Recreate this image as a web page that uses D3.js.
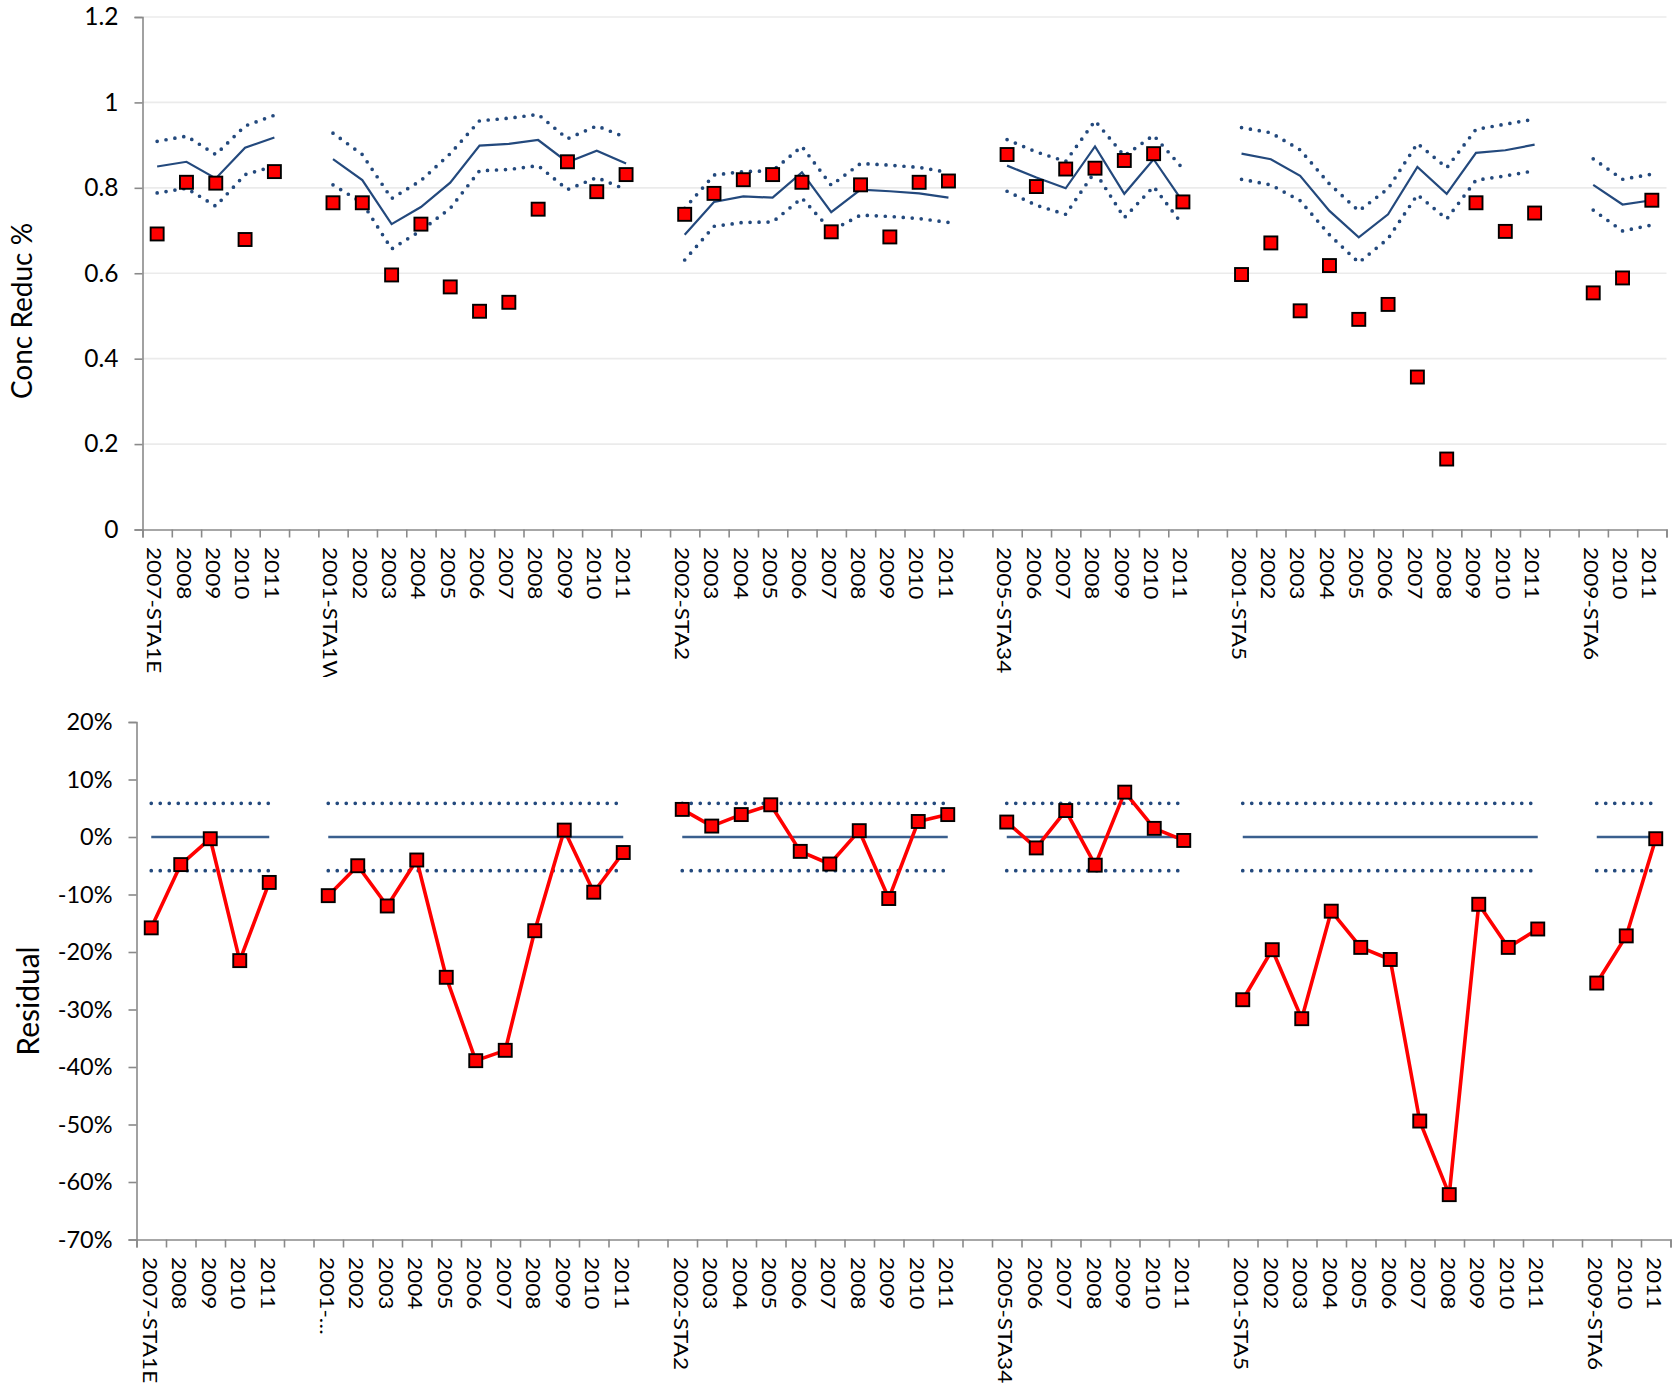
<!DOCTYPE html>
<html>
<head>
<meta charset="utf-8">
<script src="https://cdn.jsdelivr.net/npm/d3@7"></script>
<style>
  html, body { margin: 0; padding: 0; background: #ffffff; }
  svg { display: block; font-family: Lato, "Open Sans", sans-serif; }
</style>
</head>
<body>
<svg id="chart" width="1679" height="1386"></svg>
<script>
// Monitoring stations and the years sampled at each one
const stations = ["STA1E", "STA1W", "STA2", "STA34", "STA5", "STA6"];
const stationYears = [
  [2007, 2008, 2009, 2010, 2011],
  [2001, 2002, 2003, 2004, 2005, 2006, 2007, 2008, 2009, 2010, 2011],
  [2002, 2003, 2004, 2005, 2006, 2007, 2008, 2009, 2010, 2011],
  [2005, 2006, 2007, 2008, 2009, 2010, 2011],
  [2001, 2002, 2003, 2004, 2005, 2006, 2007, 2008, 2009, 2010, 2011],
  [2009, 2010, 2011]
];

// Observed concentration reduction
const observed = [
  [0.692, 0.813, 0.811, 0.679, 0.838],
  [0.765, 0.765, 0.596, 0.715, 0.568, 0.511, 0.532, 0.750, 0.861, 0.791, 0.831],
  [0.738, 0.787, 0.819, 0.831, 0.813, 0.697, 0.807, 0.685, 0.813, 0.816],
  [0.878, 0.803, 0.844, 0.846, 0.864, 0.880, 0.767],
  [0.597, 0.671, 0.512, 0.618, 0.492, 0.527, 0.357, 0.165, 0.765, 0.698, 0.741],
  [0.554, 0.589, 0.771]
];

// Model prediction
const predicted = [
  [0.850, 0.861, 0.822, 0.894, 0.918],
  [0.867, 0.818, 0.715, 0.755, 0.812, 0.899, 0.903, 0.912, 0.860, 0.887, 0.857],
  [0.690, 0.767, 0.780, 0.777, 0.836, 0.743, 0.796, 0.792, 0.787, 0.777],
  [0.852, 0.824, 0.799, 0.897, 0.786, 0.867, 0.767],
  [0.880, 0.867, 0.828, 0.746, 0.684, 0.738, 0.849, 0.786, 0.882, 0.888, 0.901],
  [0.807, 0.761, 0.771]
];

// Upper and lower limits around the prediction
const upperLimit = [
  [0.909, 0.921, 0.878, 0.945, 0.970],
  [0.928, 0.878, 0.775, 0.817, 0.880, 0.957, 0.963, 0.972, 0.915, 0.945, 0.918],
  [0.752, 0.830, 0.838, 0.840, 0.897, 0.806, 0.857, 0.853, 0.848, 0.836],
  [0.913, 0.884, 0.862, 0.957, 0.875, 0.923, 0.845],
  [0.941, 0.929, 0.889, 0.809, 0.746, 0.798, 0.904, 0.847, 0.937, 0.949, 0.961],
  [0.868, 0.820, 0.832]
];
const lowerLimit = [
  [0.788, 0.799, 0.757, 0.831, 0.851],
  [0.807, 0.765, 0.657, 0.700, 0.752, 0.840, 0.843, 0.852, 0.796, 0.824, 0.796],
  [0.631, 0.710, 0.719, 0.720, 0.776, 0.700, 0.736, 0.733, 0.728, 0.719],
  [0.792, 0.759, 0.738, 0.838, 0.730, 0.803, 0.713],
  [0.820, 0.807, 0.770, 0.690, 0.625, 0.681, 0.784, 0.727, 0.818, 0.828, 0.840],
  [0.748, 0.699, 0.713]
];

// Residuals (observed minus predicted)
const residual = [
  [-0.158, -0.048, -0.003, -0.215, -0.079],
  [-0.102, -0.050, -0.120, -0.040, -0.244, -0.389, -0.371, -0.163, 0.012, -0.096, -0.027],
  [0.048, 0.019, 0.039, 0.056, -0.025, -0.047, 0.011, -0.107, 0.027, 0.039],
  [0.026, -0.019, 0.046, -0.049, 0.078, 0.015, -0.006],
  [-0.283, -0.196, -0.316, -0.129, -0.192, -0.213, -0.494, -0.622, -0.117, -0.192, -0.160],
  [-0.254, -0.172, -0.003]
];
const residualBand = 0.0585;

// Axis ticks and their labels
const concTicks = [0, 0.2, 0.4, 0.6, 0.8, 1.0, 1.2];
const concTickLabels = ["0", "0.2", "0.4", "0.6", "0.8", "1", "1.2"];
const residTicks = [-0.7, -0.6, -0.5, -0.4, -0.3, -0.2, -0.1, 0, 0.1, 0.2];
const residTickLabels = ["-70%", "-60%", "-50%", "-40%", "-30%", "-20%", "-10%", "0%", "10%", "20%"];

// Category labels: the first year of a station carries the station name
const topLabels = stations.map((s, i) => stationYears[i].map((y, j) => j === 0 ? `${y}-${s}` : `${y}`));
const bottomLabels = stations.map((s, i) => stationYears[i].map((y, j) =>
  j === 0 ? (s === "STA1W" ? `${y}-\u2026` : `${y}-${s}`) : `${y}`));

// ---- slots: one per station-year plus an empty slot between stations
const slots = [];
stations.forEach((s, i) => {
  if (i > 0) slots.push({ key: "gap" + i, gap: true });
  stationYears[i].forEach((y, j) => slots.push({ key: s + "|" + y, station: i, idx: j }));
});
const slotKeys = slots.map(d => d.key);
const keyOf = (i, j) => stations[i] + "|" + stationYears[i][j];

const svg = d3.select("#chart");
const BLUE = "#23497d";
const AXIS = "#8a8a8a";

function drawPanel(cfg) {
  const g = svg.append("g");
  const x = d3.scaleBand().domain(slotKeys).range([cfg.x0, cfg.x1]).paddingInner(0).paddingOuter(0);
  const xEdge = d3.scaleLinear().domain([0, slotKeys.length]).range([cfg.x0, cfg.x1]);
  const y = d3.scaleLinear().domain(cfg.domain).range([cfg.yBottom, cfg.yTop]);
  const cx = (i, j) => x(keyOf(i, j)) + x.bandwidth() / 2;

  // horizontal gridlines
  if (cfg.grid) {
    g.append("g").selectAll("line").data(cfg.ticks.filter(t => t !== cfg.domain[0])).join("line")
      .attr("x1", cfg.x0).attr("x2", cfg.x1)
      .attr("y1", d => y(d)).attr("y2", d => y(d))
      .attr("stroke", "#ebebeb").attr("stroke-width", 1.6);
  }

  // y axis
  const yAxis = d3.axisLeft(y).tickValues(cfg.ticks).tickSize(8).tickPadding(cfg.tickPad)
    .tickFormat((d, k) => cfg.tickLabels[k]);
  const ya = g.append("g").attr("transform", `translate(${cfg.x0},0)`).call(yAxis);
  ya.select(".domain").attr("stroke", AXIS).attr("stroke-width", 1.6);
  ya.selectAll(".tick line").attr("stroke", AXIS).attr("stroke-width", 1.6);
  ya.selectAll(".tick text").attr("font-family", "Lato").attr("font-size", cfg.tickFont)
    .attr("fill", "#000");

  // x axis with ticks on slot boundaries
  const xAxis = d3.axisBottom(xEdge).tickValues(d3.range(slotKeys.length + 1)).tickSize(8).tickFormat("");
  const xa = g.append("g").attr("transform", `translate(0,${cfg.yBottom})`).call(xAxis);
  xa.select(".domain").attr("stroke", AXIS).attr("stroke-width", 1.6);
  xa.selectAll(".tick line").attr("stroke", AXIS).attr("stroke-width", 1.6);

  // category labels, rotated to read downward
  let labelLayer = g.append("g");
  if (cfg.labelClip) {
    const id = "clip" + Math.round(cfg.yBottom);
    svg.append("clipPath").attr("id", id).append("rect")
      .attr("x", 0).attr("y", cfg.yBottom).attr("width", 1679).attr("height", cfg.labelClip - cfg.yBottom);
    labelLayer.attr("clip-path", `url(#${id})`);
  }
  const labelData = [];
  cfg.labels.forEach((arr, i) => arr.forEach((t, j) => labelData.push({ t, x: cx(i, j) })));
  labelLayer.selectAll("text").data(labelData).join("text")
    .attr("transform", d => `translate(${d.x + cfg.labelDx},${cfg.labelY}) rotate(90) scale(1.13,1)`)
    .attr("dy", "0.36em")
    .attr("font-family", "Lato").attr("font-size", 20).attr("fill", "#000")
    .text(d => d.t);

  // axis title
  g.append("text")
    .attr("transform", `translate(${cfg.titleX},${cfg.titleY}) rotate(-90)`)
    .attr("text-anchor", "middle").attr("font-family", "Lato").attr("font-size", cfg.titleFont).attr("fill", "#000")
    .text(cfg.title);

  return { g, y, cx };
}

const dotted = sel => sel.attr("fill", "none").attr("stroke", BLUE).attr("stroke-width", 3.7)
  .attr("stroke-linecap", "round").attr("stroke-dasharray", "0 9");

function squares(g, data) {
  g.append("g").selectAll("rect").data(data).join("rect")
    .attr("x", d => d[0] - 6.5).attr("y", d => d[1] - 6.5)
    .attr("width", 13).attr("height", 13)
    .attr("fill", "#ff0000").attr("stroke", "#000").attr("stroke-width", 1.9);
}

// ---------- upper panel: concentration reduction ----------
const concPanel = drawPanel({
  x0: 142.5, x1: 1666.5, yTop: 17, yBottom: 529.5, domain: [0, 1.2],
  ticks: concTicks, tickLabels: concTickLabels, tickFont: 24.5, tickPad: 16, grid: true,
  labels: topLabels, labelY: 547, labelDx: -2.5, labelClip: 677,
  title: "Conc Reduc %", titleFont: 28, titleX: 32, titleY: 311
});
stations.forEach((s, i) => {
  const line = d3.line().x((d, j) => concPanel.cx(i, j)).y(d => concPanel.y(d));
  concPanel.g.append("path").datum(upperLimit[i]).attr("d", line).call(dotted);
  concPanel.g.append("path").datum(lowerLimit[i]).attr("d", line).call(dotted);
  concPanel.g.append("path").datum(predicted[i]).attr("d", line)
    .attr("fill", "none").attr("stroke", BLUE).attr("stroke-width", 2.2);
});
squares(concPanel.g, observed.flatMap((arr, i) => arr.map((v, j) => [concPanel.cx(i, j), concPanel.y(v)])));

// ---------- lower panel: residuals ----------
const residPanel = drawPanel({
  x0: 136.5, x1: 1670.5, yTop: 722, yBottom: 1239.5, domain: [-0.7, 0.2],
  ticks: residTicks, tickLabels: residTickLabels, tickFont: 23.5, tickPad: 16, grid: false,
  labels: bottomLabels, labelY: 1257, labelDx: -1.5, labelClip: null,
  title: "Residual", titleFont: 30, titleX: 38.5, titleY: 1001
});
stations.forEach((s, i) => {
  const n = stationYears[i].length;
  const xa = residPanel.cx(i, 0), xb = residPanel.cx(i, n - 1);
  [residualBand, -residualBand].forEach(b => {
    residPanel.g.append("line").attr("x1", xa).attr("x2", xb)
      .attr("y1", residPanel.y(b)).attr("y2", residPanel.y(b)).call(dotted);
  });
  residPanel.g.append("line").attr("x1", xa).attr("x2", xb)
    .attr("y1", residPanel.y(0)).attr("y2", residPanel.y(0))
    .attr("stroke", "#3a5f8e").attr("stroke-width", 2.4);
});
stations.forEach((s, i) => {
  const line = d3.line().x((d, j) => residPanel.cx(i, j)).y(d => residPanel.y(d));
  residPanel.g.append("path").datum(residual[i]).attr("d", line)
    .attr("fill", "none").attr("stroke", "#ff0000").attr("stroke-width", 3.6).attr("stroke-linejoin", "round");
});
squares(residPanel.g, residual.flatMap((arr, i) => arr.map((v, j) => [residPanel.cx(i, j), residPanel.y(v)])));
</script>
</body>
</html>
